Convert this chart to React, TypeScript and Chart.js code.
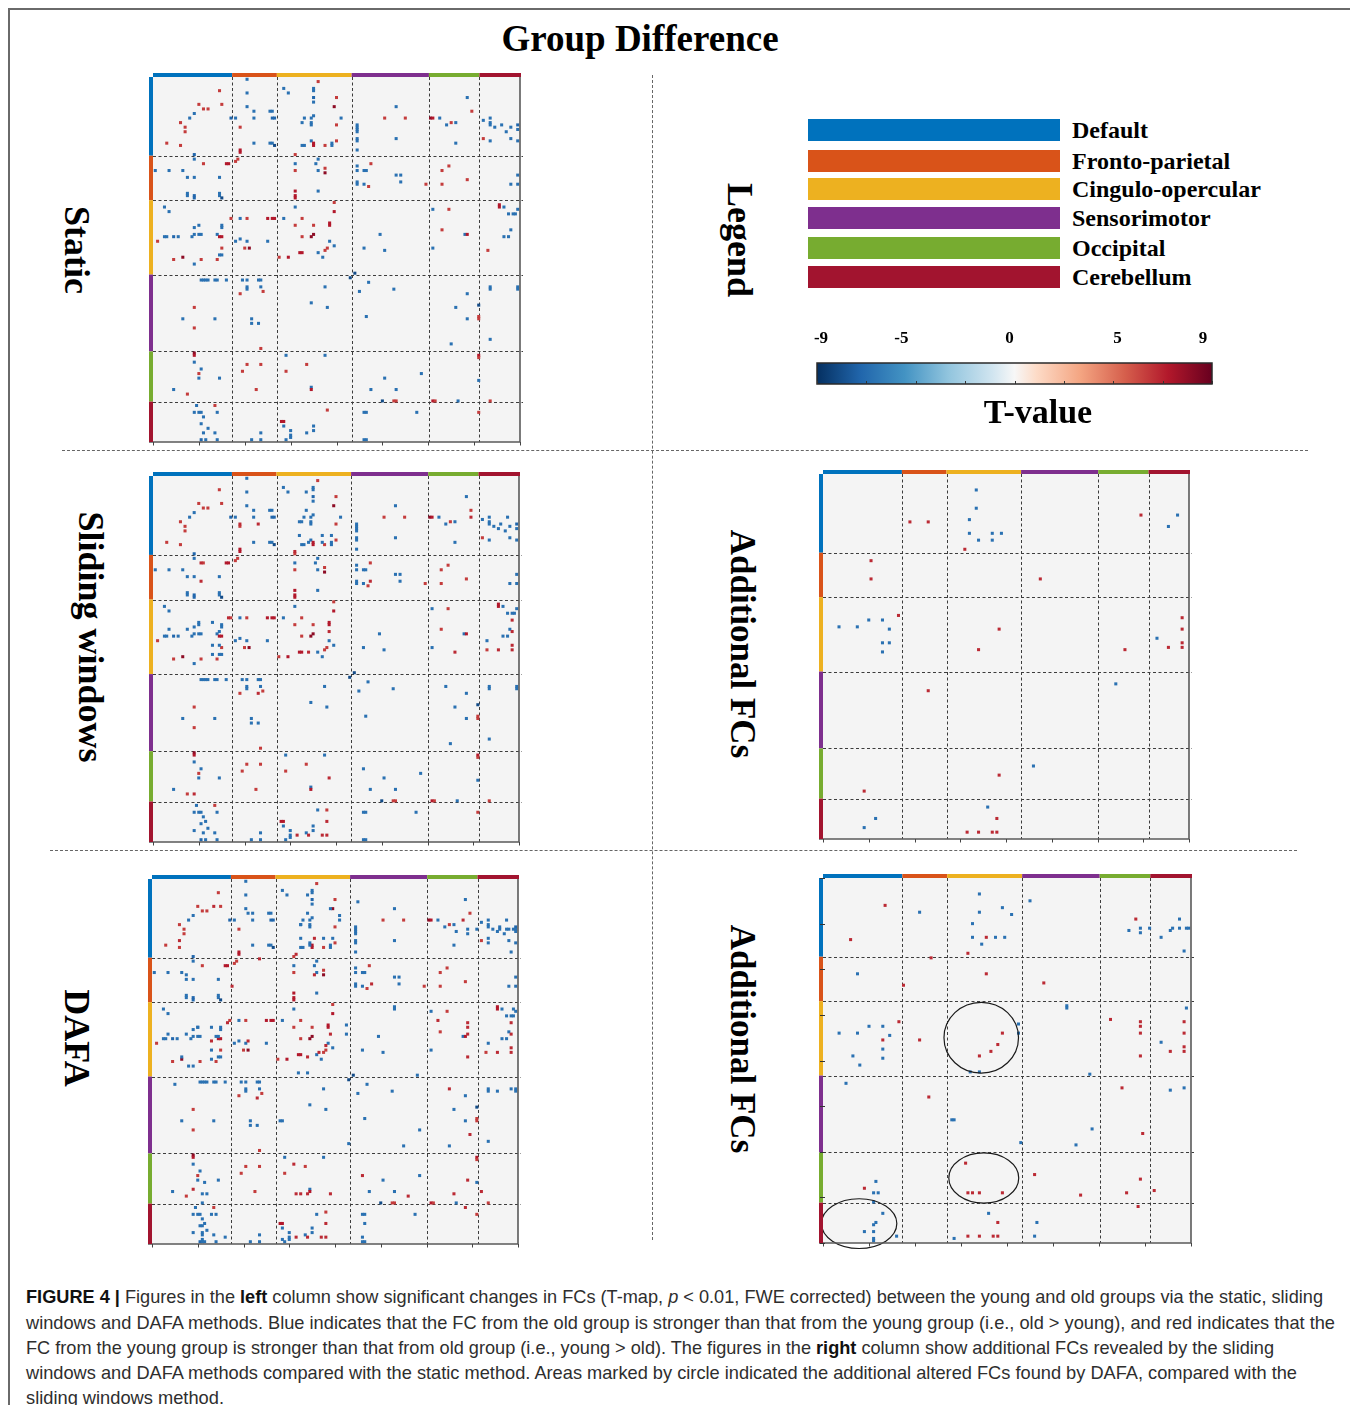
import React, { useEffect, useLayoutEffect, useRef } from "react";
import { Chart, registerables } from "chart.js";

Chart.register(...registerables);

// ---------------- data ----------------
const NETWORKS = ["Default", "Fronto-parietal", "Cingulo-opercular", "Sensorimotor", "Occipital", "Cerebellum"];
const NETWORK_COLORS = ["#0072bd", "#d95319", "#edb120", "#7e2f8e", "#77ac30", "#a2142f"];
// network block boundaries along the 160 ROI axis
const NETWORK_BOUNDS = [0, 34.5, 54, 86.6, 120.3, 142.3, 160];
const N_ROI = 160;
const AXIS_TICKS = [0, 20, 40, 60, 80, 100, 120, 140, 160];

// significant edges: [row ROI, column ROI, T-value] (upper triangle; matrix is symmetric)
const STATIC_EDGES: [number, number, number][] = [
  [16, 18, -6.5],
  [1, 41, -6.5], [7, 41, -6.5], [13, 41, -6.5], [15, 44, -6.5], [18, 44, -6.5], [18, 34, -7], [18, 36, -6.5],
  [15, 51, -6.5], [15, 52, -6.5], [18, 52, -7], [18, 53, -7], [29, 44, -6.5], [29, 51, -6.5], [29, 52, -6.5], [30, 53, -8],
  [5, 57, -6.5], [7, 59, -6.5], [5, 70, -6.5], [6, 70, -6.5], [9, 70, -7], [11, 70, -6.5], [18, 82, -6.5], [18, 66, -6.5],
  [18, 69, -6.5], [17, 70, -6.5], [20, 65, -6.5], [20, 69, -6.5], [21, 69, -6.5], [30, 65, -6.5], [30, 66, -6.5],
  [28, 69, -6.5], [29, 78, -6.5], [30, 78, -6.5],
  [21, 89, -6.5], [22, 89, -6.5], [23, 89, -6.5], [24, 89, -6.5], [27, 89, -6.5], [28, 89, -6.5], [32, 89, -6.5],
  [13, 106, -6.5], [27, 106, -6.5],
  [18, 125, -6.5], [21, 128, -6.5], [20, 132, -6.5], [9, 137, -6.5], [29, 132, -6.5],
  [19, 144, -6.5], [18, 147, -6.5], [20, 147, -6.5], [21, 147, -6.5], [22, 149, -6.5], [21, 152, -6.5], [22, 156, -6.5],
  [21, 159, -7], [23, 159, -6.5], [24, 154, -6.5], [27, 156, -6.5], [28, 159, -6.5], [28, 147, -6.5],
  [38, 62, -6.5], [38, 71, -6.5], [36, 72, -6.5], [41, 72, -6.5], [50, 72, -6.5],
  [39, 89, -6.5], [41, 89, -6.5], [41, 92, -6.5], [41, 93, -6.5], [46, 89, -6.5], [47, 89, -6.5], [47, 92, -6.5],
  [43, 106, -6.5], [43, 108, -6.5], [46, 108, -6.5],
  [43, 159, -6.5], [47, 156, -6.5], [47, 159, -6.5],
  [57, 62, -6.5], [72, 77, -6.5], [74, 79, -6.5],
  [69, 99, -6.5], [75, 92, -6.5], [76, 101, -6.5],
  [58, 122, -6.5], [75, 122, -6.5], [69, 136, -6.5],
  [57, 153, -6.5], [60, 155, -6.5], [60, 157, -6.5], [60, 158, -6.5], [58, 159, -6.5], [67, 156, -6.5], [70, 153, -6.5], [70, 155, -6.5],
  [90, 94, -6.5], [93, 105, -6.5], [86, 88, -8],
  [95, 137, -6.5], [101, 132, -6.5], [106, 137, -6.5], [117, 130, -6.5],
  [92, 147, -6.5], [93, 147, -6.5], [92, 159, -6.5], [93, 159, -6.5], [100, 142, -8], [115, 147, -6.5],
  [133, 142, -6.5],
  [6, 29, 6], [12, 30, 6], [12, 20, 6], [14, 22, 6], [14, 24, 6],
  [22, 38, 6], [32, 38, 7], [33, 38, 7],
  [2, 72, 6], [9, 80, 6], [13, 79, 8], [21, 80, 6], [29, 70, 7], [30, 70, 7], [30, 75, 6], [28, 80, 6], [34, 62, 6],
  [18, 101, 6], [18, 110, 6],
  [18, 121, 8], [18, 122, 7], [20, 130, 6], [15, 139, 6],
  [27, 144, 6],
  [36, 37, 6], [41, 62, 6], [40, 75, 6], [42, 75, 8], [50, 62, 7], [52, 62, 7], [53, 62, 7],
  [38, 95, 6], [48, 94, 6], [47, 119, 6],
  [41, 126, 6], [39, 129, 6], [47, 126, 6], [45, 137, 6],
  [55, 79, 6], [59, 79, 7], [62, 65, 6], [64, 77, 7], [65, 77, 7], [65, 70, 6], [69, 70, 8], [75, 76, 6],
  [58, 129, 6], [67, 126, 6], [69, 137, 7],
  [76, 146, 6], [56, 151, 7], [57, 151, 7],
  [105, 142, 6], [106, 142, 6],
  [122, 142, 7], [123, 142, 6],
  [142, 147, 6],
];

// additional FCs found by sliding windows (vs. static)
const SLIDING_EXTRA_EDGES: [number, number, number][] = [
  [7, 67, -6.5], [15, 67, -6.5], [20, 64, -6.5], [26, 64, -6.5], [26, 74, -6.5], [26, 78, -6.5], [29, 68, -6.5],
  [29, 74, -6.5], [18, 155, -6.5], [23, 151, -6.5], [92, 128, -6.5], [72, 146, -6.5],
  [33, 62, 6.5], [21, 38, 6.5], [21, 46, 6.5], [18, 139, 6.5], [46, 95, 6.5], [68, 77, 6.5], [77, 132, 6.5],
  [63, 157, 6.5], [68, 157, 6.5], [74, 157, 6.5], [76, 157, 6.5], [76, 151, 6.5],
];

// additional FCs found by DAFA (vs. static)
const DAFA_EXTRA_EDGES: [number, number, number][] = [
  [15, 42, -6.5], [7, 68, -6.5], [15, 68, -6.5], [13, 78, -6.5], [16, 82, -6.5], [20, 65, -6.5], [26, 65, -6.5],
  [26, 75, -6.5], [26, 79, -6.5], [29, 69, -6.5], [10, 90, -6.5], [23, 133, -6.5], [22, 138, -6.5], [24, 138, -6.5],
  [22, 142, -6.5], [26, 147, -6.5], [23, 151, -6.5], [22, 152, -6.5], [18, 155, -6.5], [22, 155, -6.5], [22, 158, -6.5],
  [22, 159, -6.5], [32, 157, -6.5], [64, 85, -6.5], [68, 85, -6.5], [56, 106, -6.5], [57, 106, -6.5], [86, 116, -6.5],
  [72, 147, -6.5], [57, 158, -6.5], [110, 117, -6.5], [93, 151, -6.5], [92, 157, -6.5],
  [12, 27, 6.5], [33, 63, 6.5], [26, 71, 6.5], [35, 47, 6.5], [18, 136, 6.5], [42, 71, 6.5], [46, 96, 6.5],
  [68, 78, 6.5], [73, 76, 6.5], [62, 125, 6.5], [63, 138, 6.5], [65, 138, 6.5], [68, 138, 6.5], [78, 138, 6.5],
  [76, 151, 6.5], [63, 157, 6.5], [68, 157, 6.5], [74, 157, 6.5], [76, 157, 6.5], [92, 130, 6.5], [112, 139, 6.5],
  [132, 138, 6.5], [137, 144, 6.5],
];

// circled areas (column centre, row centre, column radius, row radius) in ROI units
const DAFA_CIRCLES: [number, number, number, number][] = [
  [68.8, 70, 16.2, 15.5],
  [69.9, 131.5, 15.2, 11],
  [15.7, 151.5, 16.4, 10.9],
];

const T_MIN = -9;
const T_MAX = 9;
const T_TICKS = [-9, -5, 0, 5, 9];
const CMAP_T = [-9, -7, -5, -3, -1, 0, 1, 3, 5, 7, 9];
const CMAP_COLORS = ["#053061", "#2166ac", "#4393c3", "#92c5de", "#d1e5f0", "#f7f7f7", "#fddbc7", "#f4a582", "#d6604d", "#b2182b", "#67001f"];

// ---------------- helpers ----------------
const OX = 10; // page x of frame content origin
const OY = 10;
const SERIF = '"Liberation Serif", "Times New Roman", serif';
const SANS = '"Liberation Sans", Arial, Helvetica, sans-serif';

function hexToRgb(h: string) {
  return [parseInt(h.slice(1, 3), 16), parseInt(h.slice(3, 5), 16), parseInt(h.slice(5, 7), 16)];
}
function tColor(t: number) {
  const v = Math.max(T_MIN, Math.min(T_MAX, t));
  for (let i = 0; i < CMAP_T.length - 1; i++) {
    if (v >= CMAP_T[i] && v <= CMAP_T[i + 1]) {
      const f = (v - CMAP_T[i]) / (CMAP_T[i + 1] - CMAP_T[i]);
      const a = hexToRgb(CMAP_COLORS[i]);
      const b = hexToRgb(CMAP_COLORS[i + 1]);
      const c = a.map((x, k) => Math.round(x + (b[k] - x) * f));
      return `rgb(${c[0]},${c[1]},${c[2]})`;
    }
  }
  return CMAP_COLORS[CMAP_COLORS.length - 1];
}

type Box = { L: number; T: number; R: number; B: number };
const PAD = 12;

function MatrixPanel({ edges, circles, box, leftTicks }: { edges: [number, number, number][]; circles?: [number, number, number, number][]; box: Box; leftTicks?: boolean }) {
  const ref = useRef<HTMLCanvasElement>(null);
  useEffect(() => {
    const pts: { x: number; y: number }[] = [];
    const cols: string[] = [];
    for (const [r, c, t] of edges) {
      pts.push({ x: c, y: r });
      cols.push(tColor(t));
      pts.push({ x: r, y: c });
      cols.push(tColor(t));
    }
    const decor = {
      id: "matrixDecor",
      beforeDatasetsDraw(chart: any) {
        const { ctx, chartArea: a, scales } = chart;
        const xs = scales.x, ys = scales.y;
        ctx.save();
        ctx.fillStyle = "#f4f4f4";
        ctx.fillRect(a.left, a.top, a.right - a.left, a.bottom - a.top);
        ctx.strokeStyle = "#3c3c3c";
        ctx.lineWidth = 1;
        ctx.setLineDash([3, 2.5]);
        for (let i = 1; i < NETWORK_BOUNDS.length - 1; i++) {
          const px = Math.round(xs.getPixelForValue(NETWORK_BOUNDS[i])) + 0.5;
          const py = Math.round(ys.getPixelForValue(NETWORK_BOUNDS[i])) + 0.5;
          ctx.beginPath();
          ctx.moveTo(px, a.top);
          ctx.lineTo(px, a.bottom);
          ctx.stroke();
          ctx.beginPath();
          ctx.moveTo(a.left, py);
          ctx.lineTo(a.right + 3, py);
          ctx.stroke();
        }
        ctx.restore();
      },
      afterDatasetsDraw(chart: any) {
        const { ctx, chartArea: a, scales } = chart;
        const xs = scales.x, ys = scales.y;
        ctx.save();
        if (circles) {
          ctx.strokeStyle = "#1a1a1a";
          ctx.lineWidth = 1.2;
          for (const [cx, cy, rx, ry] of circles) {
            const px = xs.getPixelForValue(cx);
            const py = ys.getPixelForValue(cy);
            const prx = Math.abs(xs.getPixelForValue(cx + rx) - px);
            const pry = Math.abs(ys.getPixelForValue(cy + ry) - py);
            ctx.beginPath();
            ctx.ellipse(px, py, prx, pry, 0, 0, Math.PI * 2);
            ctx.stroke();
          }
        }
        // borders right & bottom
        ctx.strokeStyle = "#5a5a5a";
        ctx.lineWidth = 1.6;
        ctx.beginPath();
        ctx.moveTo(a.right, a.top - 1);
        ctx.lineTo(a.right, a.bottom);
        ctx.lineTo(a.left - 4, a.bottom);
        ctx.stroke();
        // bottom ticks
        ctx.lineWidth = 1;
        ctx.strokeStyle = "#444";
        for (const v of AXIS_TICKS) {
          const px = Math.round(xs.getPixelForValue(v)) + 0.5;
          ctx.beginPath();
          ctx.moveTo(px, a.bottom);
          ctx.lineTo(px, a.bottom + 3.5);
          ctx.stroke();
        }
        // network colour bars
        for (let i = 0; i < NETWORKS.length; i++) {
          ctx.fillStyle = NETWORK_COLORS[i];
          const x0 = xs.getPixelForValue(NETWORK_BOUNDS[i]);
          const x1 = xs.getPixelForValue(NETWORK_BOUNDS[i + 1]);
          ctx.fillRect(x0, a.top - 4, x1 - x0 + (i === NETWORKS.length - 1 ? 1 : 0), 4);
          const y0 = ys.getPixelForValue(NETWORK_BOUNDS[i]);
          const y1 = ys.getPixelForValue(NETWORK_BOUNDS[i + 1]);
          ctx.fillRect(a.left - 4, y0, 4, y1 - y0);
        }
        if (leftTicks) {
          ctx.strokeStyle = "#333";
          ctx.lineWidth = 1;
          for (const v of AXIS_TICKS) {
            const py = Math.round(ys.getPixelForValue(v)) + 0.5;
            ctx.beginPath();
            ctx.moveTo(a.left - 3, py);
            ctx.lineTo(a.left + 2, py);
            ctx.stroke();
          }
        }
        ctx.restore();
      },
    };
    const chart = new Chart(ref.current as HTMLCanvasElement, {
      type: "scatter",
      data: {
        datasets: [
          {
            data: pts,
            backgroundColor: cols,
            borderWidth: 0,
            pointStyle: "rect",
            pointRadius: 2.15,
            pointHoverRadius: 2.15,
          } as any,
        ],
      },
      options: {
        animation: false,
        responsive: false,
        maintainAspectRatio: false,
        events: [],
        layout: { padding: PAD },
        plugins: { legend: { display: false }, tooltip: { enabled: false } },
        scales: {
          x: { type: "linear", min: 0, max: N_ROI, display: false },
          y: { type: "linear", min: 0, max: N_ROI, reverse: true, display: false },
        },
      },
      plugins: [decor],
    });
    return () => chart.destroy();
  }, []);
  const w = box.R - box.L + 2 * PAD;
  const h = box.B - box.T + 2 * PAD;
  return (
    <canvas
      ref={ref}
      width={w}
      height={h}
      style={{ position: "absolute", left: box.L - PAD - OX, top: box.T - PAD - OY, width: w, height: h }}
    />
  );
}

function ColorBar() {
  const ref = useRef<HTMLCanvasElement>(null);
  const box = { L: 800, T: 320, R: 1232, B: 394 };
  const pad = { left: 17, top: 43, right: 20, bottom: 10 };
  useEffect(() => {
    const plugin = {
      id: "cbar",
      afterDraw(chart: any) {
        const { ctx, chartArea: a, scales } = chart;
        const xs = scales.x;
        ctx.save();
        const g = ctx.createLinearGradient(a.left, 0, a.right, 0);
        CMAP_T.forEach((t, i) => g.addColorStop((t - T_MIN) / (T_MAX - T_MIN), CMAP_COLORS[i]));
        ctx.fillStyle = g;
        ctx.fillRect(a.left, a.top, a.right - a.left, a.bottom - a.top);
        ctx.strokeStyle = "#2a2a2a";
        ctx.lineWidth = 1.5;
        ctx.strokeRect(a.left, a.top, a.right - a.left, a.bottom - a.top);
        ctx.lineWidth = 1;
        ctx.strokeStyle = "#333";
        for (let k = 0; k <= 8; k++) {
          const px = Math.round(xs.getPixelForValue(T_MIN + k * 2.25)) + 0.5;
          ctx.beginPath();
          ctx.moveTo(px, a.bottom);
          ctx.lineTo(px, a.bottom - 3);
          ctx.stroke();
        }
        ctx.fillStyle = "#000";
        ctx.font = `bold 17px ${SERIF}`;
        ctx.textAlign = "center";
        ctx.textBaseline = "middle";
        for (const t of T_TICKS) {
          const px = xs.getPixelForValue(t);
          const off = t === T_MIN ? 4 : t === T_MAX ? -9 : -5 + (t / 9) * -3;
          ctx.fillText(String(t), px + off, 339 - box.T);
        }
        ctx.restore();
      },
    };
    const chart = new Chart(ref.current as HTMLCanvasElement, {
      type: "scatter",
      data: { datasets: [{ data: [] }] },
      options: {
        animation: false,
        responsive: false,
        maintainAspectRatio: false,
        events: [],
        layout: { padding: pad },
        plugins: { legend: { display: false }, tooltip: { enabled: false } },
        scales: {
          x: { type: "linear", min: T_MIN, max: T_MAX, display: false },
          y: { type: "linear", min: 0, max: 1, display: false },
        },
      },
      plugins: [plugin],
    });
    return () => chart.destroy();
  }, []);
  const w = box.R - box.L;
  const h = box.B - box.T;
  return <canvas ref={ref} width={w} height={h} style={{ position: "absolute", left: box.L - OX, top: box.T - OY, width: w, height: h }} />;
}

function VLabel({ text, cx, cy, size = 36 }: { text: string; cx: number; cy: number; size?: number }) {
  return (
    <div
      style={{
        position: "absolute",
        left: cx - OX,
        top: cy - OY,
        transform: "translate(-50%, -50%)",
        writingMode: "vertical-rl",
        fontFamily: SERIF,
        fontWeight: "bold",
        fontSize: size,
        lineHeight: `${size}px`,
        whiteSpace: "nowrap",
        color: "#000",
      }}
    >
      {text}
    </div>
  );
}

function HDash({ x0, x1, y }: { x0: number; x1: number; y: number }) {
  return <div style={{ position: "absolute", left: x0 - OX, top: y - OY, width: x1 - x0, height: 0, borderTop: "1px dashed #666" }} />;
}
function VDash({ y0, y1, x }: { y0: number; y1: number; x: number }) {
  return <div style={{ position: "absolute", left: x - OX, top: y0 - OY, width: 0, height: y1 - y0, borderLeft: "1px dashed #666" }} />;
}

const LEGEND_TOPS = [119, 150, 178, 207, 237, 266];

const CAPTION_TARGET_WIDTHS = [1297, 1309, 1248, 1271, 198];
const CAPTION_LINE_H = 25.3;

function Caption() {
  const refs = useRef<(HTMLSpanElement | null)[]>([]);
  useLayoutEffect(() => {
    refs.current.forEach((el, i) => {
      if (!el) return;
      el.style.transform = "none";
      const w = el.getBoundingClientRect().width;
      if (w > 0) el.style.transform = `scaleX(${CAPTION_TARGET_WIDTHS[i] / w})`;
    });
  }, []);
  const lines: React.ReactNode[] = [
    <>
      <b style={{ color: "#111" }}>FIGURE 4 |</b> Figures in the <b style={{ color: "#111" }}>left</b> column show significant changes in FCs (T-map, <i>p</i> &lt; 0.01, FWE corrected) between the young and old groups via the static, sliding
    </>,
    <>windows and DAFA methods. Blue indicates that the FC from the old group is stronger than that from the young group (i.e., old &gt; young), and red indicates that the</>,
    <>
      FC from the young group is stronger than that from old group (i.e., young &gt; old). The figures in the <b style={{ color: "#111" }}>right</b> column show additional FCs revealed by the sliding
    </>,
    <>windows and DAFA methods compared with the static method. Areas marked by circle indicated the additional altered FCs found by DAFA, compared with the</>,
    <>sliding windows method.</>,
  ];
  return (
    <div style={{ position: "absolute", left: 25.5 - OX, top: 1284.3 - OY, fontFamily: SANS, fontSize: 18.5, color: "#2e2e2e" }}>
      {lines.map((ln, i) => (
        <div key={i} style={{ height: CAPTION_LINE_H, lineHeight: `${CAPTION_LINE_H}px`, whiteSpace: "nowrap" }}>
          <span
            ref={(el) => {
              refs.current[i] = el;
            }}
            style={{ display: "inline-block", transformOrigin: "0 0" }}
          >
            {ln}
          </span>
        </div>
      ))}
    </div>
  );
}

export default function App() {
  const slidingEdges = [...STATIC_EDGES, ...SLIDING_EXTRA_EDGES];
  const dafaEdges = [...STATIC_EDGES, ...DAFA_EXTRA_EDGES];
  return (
    <div
      style={{
        position: "relative",
        width: 1344,
        height: 1395,
        borderTop: "2px solid #6a6a6a",
        borderLeft: "2px solid #6a6a6a",
        borderRight: "2px solid #6a6a6a",
        background: "#fff",
        fontFamily: SERIF,
      }}
    >
      {/* title */}
      <div
        style={{
          position: "absolute",
          left: 640 - OX,
          top: 38 - OY,
          transform: "translate(-50%, -50%)",
          fontFamily: SERIF,
          fontWeight: "bold",
          fontSize: 37,
          lineHeight: "37px",
          whiteSpace: "nowrap",
          color: "#000",
        }}
      >
        Group Difference
      </div>

      {/* separators */}
      <HDash x0={62} x1={1308} y={450} />
      <HDash x0={50} x1={1297} y={850} />
      <VDash x={652} y0={75} y1={1240} />

      {/* panel labels */}
      <VLabel text="Static" cx={77} cy={250} />
      <VLabel text="Sliding windows" cx={91} cy={637} />
      <VLabel text="DAFA" cx={77} cy={1038} />
      <VLabel text="Legend" cx={740} cy={240} />
      <VLabel text="Additional FCs" cx={742} cy={644} size={35} />
      <VLabel text="Additional FCs" cx={742} cy={1039} size={35} />

      {/* matrices */}
      <MatrixPanel edges={STATIC_EDGES} box={{ L: 153, T: 77, R: 520, B: 442 }} />
      <MatrixPanel edges={slidingEdges} box={{ L: 153, T: 476, R: 519, B: 842 }} />
      <MatrixPanel edges={dafaEdges} box={{ L: 152, T: 879, R: 518, B: 1244 }} />
      <MatrixPanel edges={SLIDING_EXTRA_EDGES} box={{ L: 823, T: 474, R: 1189, B: 839 }} />
      <MatrixPanel edges={DAFA_EXTRA_EDGES} circles={DAFA_CIRCLES} box={{ L: 823, T: 878, R: 1191, B: 1243 }} leftTicks />

      {/* network legend */}
      {NETWORKS.map((name, i) => (
        <React.Fragment key={name}>
          <div
            style={{
              position: "absolute",
              left: 808 - OX,
              top: LEGEND_TOPS[i] - OY,
              width: 252,
              height: 22,
              background: NETWORK_COLORS[i],
            }}
          />
          <div
            style={{
              position: "absolute",
              left: 1072 - OX,
              top: LEGEND_TOPS[i] - OY,
              height: 22,
              display: "flex",
              alignItems: "center",
              fontFamily: SERIF,
              fontWeight: "bold",
              fontSize: 24,
              lineHeight: "24px",
              whiteSpace: "nowrap",
              color: "#000",
            }}
          >
            {name}
          </div>
        </React.Fragment>
      ))}

      {/* colour bar */}
      <ColorBar />
      <div
        style={{
          position: "absolute",
          left: 1038 - OX,
          top: 412 - OY,
          transform: "translate(-50%, -50%)",
          fontFamily: SERIF,
          fontWeight: "bold",
          fontSize: 34,
          lineHeight: "34px",
          whiteSpace: "nowrap",
          color: "#000",
        }}
      >
        T-value
      </div>

      <Caption />
    </div>
  );
}
